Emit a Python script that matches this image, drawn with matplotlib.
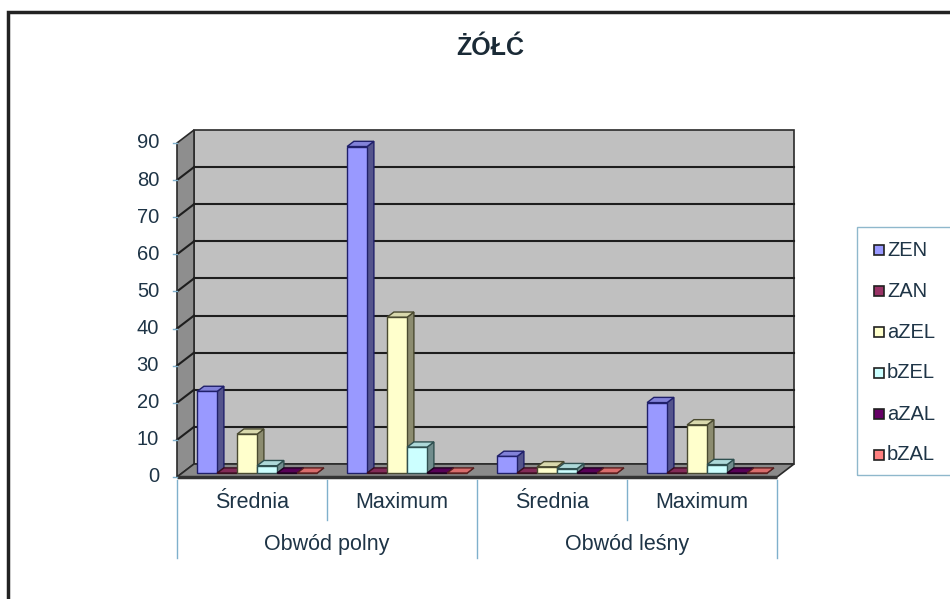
import matplotlib.pyplot as plt
import matplotlib.colors as mcolors
from matplotlib.patches import Polygon, Rectangle

plt.rcParams['font.family'] = ['Liberation Sans', 'DejaVu Sans']

# chart data
title = 'ŻÓŁĆ'
groups = ['Obwód polny', 'Obwód leśny']
stats = ['Średnia', 'Maximum', 'Średnia', 'Maximum']
series = ['ZEN', 'ZAN', 'aZEL', 'bZEL', 'aZAL', 'bZAL']
zen = [22, 88, 4.5, 19]
zan = [0, 0, 0, 0]
azel = [10.5, 42, 1.7, 13]
bzel = [2, 7, 1.2, 2.3]
azal = [0, 0, 0, 0]
bzal = [0, 0, 0, 0]
values = [zen, zan, azel, bzel, azal, bzal]
colors = ['#9999FF', '#993366', '#FFFFCC', '#CCFFFF', '#660066', '#FF8080']
edges = ['#20206a', '#3a1020', '#4a4a30', '#2f5050', '#200020', '#5a2020']
yticks = list(range(0, 100, 10))

txt = '#1e3446'
W, H = 950, 599


def fx(x):
    return x / W


def fy(y):
    return 1 - y / H


def shade(c, k):
    r, g, b = mcolors.to_rgb(c)
    return (r * k, g * k, b * k)


fig = plt.figure(figsize=(W / 100, H / 100), dpi=100)
fig.patch.set_facecolor('white')

# plot area: x in categories, y in values on the front plane
ax = fig.add_axes([fx(177), fy(477), 600 / W, 334 / H])
ax.set_xlim(0, 4)
ax.set_ylim(0, 90)
ax.axis('off')

DX = 17 / 150          # depth offset in category units
DY = 13 / (334 / 90)   # depth offset in value units

# walls and floor
ax.add_patch(Rectangle((DX, DY), 4, 90, fc='#c0c0c0', ec='#2a2a2a', lw=1.2, clip_on=False))
ax.add_patch(Polygon([(0, 0), (DX, DY), (DX, 90 + DY), (0, 90)], closed=True,
                     fc='#8e8e8e', ec='#2a2a2a', lw=1.2, clip_on=False))
ax.add_patch(Polygon([(0, 0), (4, 0), (4 + DX, DY), (DX, DY)], closed=True,
                     fc='#8a8a8a', ec='#2a2a2a', lw=1.2, clip_on=False, zorder=2))
ax.plot([0, 4], [0, 0], color='#333333', lw=2.5, clip_on=False, zorder=2,
        solid_capstyle='butt')

for v in yticks[1:-1]:
    ax.plot([DX, 4 + DX], [v + DY, v + DY], color='#1e1e1e', lw=1.5, clip_on=False, zorder=1.5)
    ax.plot([0, DX], [v, v + DY], color='#1e1e1e', lw=1.5, clip_on=False, zorder=1.5)

for v in yticks:
    ax.text(-0.12, v, str(v), ha='right', va='center', fontsize=14.5, color=txt)
    ax.plot([-0.03, 0], [v, v], color='#7fb0cc', lw=1, clip_on=False)

# 3D columns
bw = 20 / 150
f0, f1 = 0.3, 0.7
for c in range(len(stats)):
    for i, vals in enumerate(values):
        h = vals[c]
        x0 = c + (15 + 20 * i) / 150
        xa, ya = x0 + f0 * DX, f0 * DY
        xb, yb = x0 + f1 * DX, f1 * DY
        col, ec = colors[i], edges[i]
        front = [(xa, ya), (xa + bw, ya), (xa + bw, ya + h), (xa, ya + h)]
        side = [(xa + bw, ya), (xb + bw, yb), (xb + bw, yb + h), (xa + bw, ya + h)]
        top = [(xa, ya + h), (xa + bw, ya + h), (xb + bw, yb + h), (xb, yb + h)]
        for poly, k in ((side, 0.55), (top, 0.85), (front, 1.0)):
            ax.add_patch(Polygon(poly, closed=True, fc=shade(col, k), ec=ec, lw=1,
                                 clip_on=False, zorder=3))

# category table below the floor
lc = '#7fb0cc'
for x in (0, 2, 4):
    ax.plot([x, x], [-0.8, -21.8], color=lc, lw=1, clip_on=False)
for x in (1, 3):
    ax.plot([x, x], [-0.8, -11.6], color=lc, lw=1, clip_on=False)
for c, s in enumerate(stats):
    ax.text(c + 0.5, -7.0, s, ha='center', va='center', fontsize=15.5, color=txt)
for g, name in enumerate(groups):
    ax.text(2 * g + 1, -18.3, name, ha='center', va='center', fontsize=15.5, color=txt)

# title
fig.text(fx(490), fy(48), title, ha='center', va='center', fontsize=18,
         fontweight='bold', color='#1a2a36')

# legend
fig.add_artist(Rectangle((fx(857), fy(475)), fx(120), (475 - 227) / H, fill=False,
                         ec='#8fb8cc', lw=1, transform=fig.transFigure))
for i, name in enumerate(series):
    yc = 250 + 41 * i
    fig.add_artist(Rectangle((fx(874), fy(yc + 5)), fx(10), 10 / H, fc=colors[i],
                             ec='#202020', lw=1.2, transform=fig.transFigure))
    fig.text(fx(887), fy(yc), name, ha='left', va='center', fontsize=14.5, color=txt)

# outer frame
fig.add_artist(Rectangle((fx(8), -0.1), 1.2, fy(12) + 0.1, fill=False, ec='#222222',
                         lw=2.5, transform=fig.transFigure))

fig.savefig('out.png', dpi=100)
